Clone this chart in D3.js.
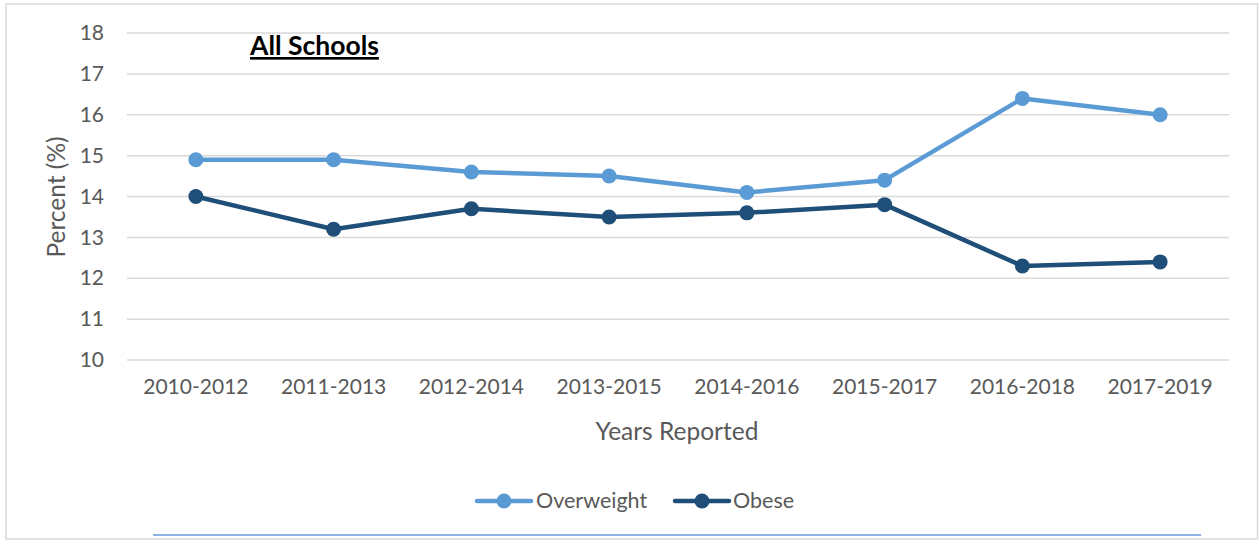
<!DOCTYPE html>
<html><head><meta charset="utf-8">
<script src="https://cdn.jsdelivr.net/npm/d3@7"></script>
<style>
html,body{margin:0;padding:0;background:#fff;}
svg{display:block;font-family:Lato,"Open Sans",sans-serif;}
</style></head>
<body>
<svg id="chart" width="1259" height="540"></svg>
<script>
const categories = ["2010-2012","2011-2013","2012-2014","2013-2015","2014-2016","2015-2017","2016-2018","2017-2019"];
const overweight = [14.9,14.9,14.6,14.5,14.1,14.4,16.4,16.0];
const obese = [14.0,13.2,13.7,13.5,13.6,13.8,12.3,12.4];
const yTicks = [10,11,12,13,14,15,16,17,18];
const seriesNames = ["Overweight","Obese"];
const seriesColors = ["#5B9BD5","#1F4E79"];

const svg = d3.select("#chart");
const textColor = "#595959";

// outer border
svg.append("rect").attr("x",6).attr("y",4).attr("width",1251.5).attr("height",535)
  .attr("fill","#fff").attr("stroke","#d9d9d9").attr("stroke-width",1.5);

const x = d3.scaleBand().domain(categories).range([127,1229]).padding(0);
const y = d3.scaleLinear().domain([10,18]).range([360,33]);
const cx = d => x(d) + x.bandwidth()/2;

// gridlines
svg.append("g").selectAll("line").data(yTicks).join("line")
  .attr("x1",127).attr("x2",1229)
  .attr("y1",d=>y(d)).attr("y2",d=>y(d))
  .attr("stroke","#d9d9d9").attr("stroke-width",1.5);

// y axis labels
const yAxis = d3.axisLeft(y).tickValues(yTicks).tickSize(0).tickPadding(0);
const gy = svg.append("g").attr("transform","translate(104,0)").call(yAxis);
gy.select(".domain").remove();
gy.selectAll("text").attr("fill",textColor).style("font-size","21px").style("font-family","Lato");

// x axis labels
const xAxis = d3.axisBottom(x).tickSize(0).tickPadding(0);
const gx = svg.append("g").attr("transform","translate(0,379)").call(xAxis);
gx.select(".domain").remove();
gx.selectAll("text").attr("fill",textColor).style("font-size","21px").style("font-family","Lato");

// axis titles
svg.append("text").attr("x",677).attr("y",440).attr("text-anchor","middle")
  .attr("fill",textColor).style("font-size","24.5px").text("Years Reported");
svg.append("text").attr("transform","translate(65,197) rotate(-90)").attr("text-anchor","middle")
  .attr("fill",textColor).style("font-size","24.5px").text("Percent (%)");

// title
svg.append("text").attr("x",250).attr("y",55)
  .attr("fill","#000").style("font-size","26.5px").style("font-weight","bold")
  .attr("text-decoration","underline").text("All Schools");

// series
const line = d3.line().x((d,i)=>cx(categories[i])).y(d=>y(d));
[overweight, obese].forEach((vals,k)=>{
  svg.append("path").datum(vals).attr("d",line)
    .attr("fill","none").attr("stroke",seriesColors[k]).attr("stroke-width",4.5)
    .attr("stroke-linejoin","round").attr("stroke-linecap","round");
  svg.append("g").selectAll("circle").data(vals).join("circle")
    .attr("cx",(d,i)=>cx(categories[i])).attr("cy",d=>y(d)).attr("r",7.5)
    .attr("fill",seriesColors[k]);
});

// legend
const legendItems = [{x:477, tx:536},{x:675, tx:733}];
seriesNames.forEach((name,k)=>{
  const L = legendItems[k];
  svg.append("line").attr("x1",L.x).attr("x2",L.x+54).attr("y1",501).attr("y2",501)
    .attr("stroke",seriesColors[k]).attr("stroke-width",4.5).attr("stroke-linecap","round");
  svg.append("circle").attr("cx",L.x+27).attr("cy",501).attr("r",7.5).attr("fill",seriesColors[k]);
  svg.append("text").attr("x",L.tx).attr("y",508).attr("fill",textColor)
    .style("font-size","21.5px").text(name);
});

// bottom accent line
svg.append("line").attr("x1",153).attr("x2",1201).attr("y1",535).attr("y2",535)
  .attr("stroke","#8DB4E2").attr("stroke-width",2);
</script>
</body></html>
